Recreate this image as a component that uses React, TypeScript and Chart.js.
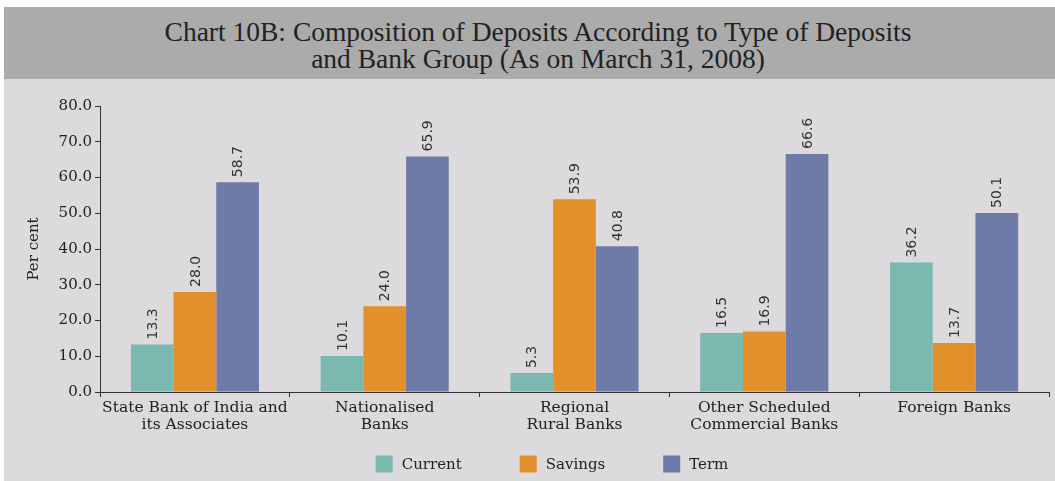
import React, { useEffect, useRef } from "react";
import { Chart, registerables } from "chart.js";

Chart.register(...registerables);

const categories: string[][] = [
  ["State Bank of India and", "its Associates"],
  ["Nationalised", "Banks"],
  ["Regional", "Rural Banks"],
  ["Other Scheduled", "Commercial Banks"],
  ["Foreign Banks"],
];
const currentValues = [13.3, 10.1, 5.3, 16.5, 36.2];
const savingsValues = [28.0, 24.0, 53.9, 16.9, 13.7];
const termValues = [58.7, 65.9, 40.8, 66.6, 50.1];
const seriesNames = ["Current", "Savings", "Term"];
const yTicksMax = 80;
const yTickStep = 10;

const COLORS = ["#7bb8b0", "#e2902a", "#6e7aa8"];
const SERIF = "'DejaVu Serif', serif";
const TITLE_SERIF = "'Liberation Serif', serif";
const SANS = "'DejaVu Sans', sans-serif";

const valueLabelPlugin = {
  id: "valueLabels",
  afterDatasetsDraw(chart: any) {
    const ctx = chart.ctx;
    ctx.save();
    ctx.font = `14px ${SANS}`;
    ctx.fillStyle = "#333";
    ctx.textAlign = "left";
    ctx.textBaseline = "middle";
    chart.data.datasets.forEach((ds: any, di: number) => {
      const meta = chart.getDatasetMeta(di);
      meta.data.forEach((bar: any, i: number) => {
        const v = ds.data[i];
        ctx.save();
        ctx.translate(bar.x, bar.y - 5);
        ctx.rotate(-Math.PI / 2);
        ctx.fillText(Number(v).toFixed(1), 0, 1);
        ctx.restore();
      });
    });
    ctx.restore();
  },
};

const customLegendPlugin = {
  id: "customLegend",
  afterDraw(chart: any) {
    const ctx = chart.ctx;
    const opts = chart.options.plugins.customLegend;
    ctx.save();
    ctx.font = `${opts.fontSize}px ${SERIF}`;
    ctx.textBaseline = "middle";
    ctx.textAlign = "left";
    const items = chart.data.datasets.map((ds: any) => ({
      label: ds.label,
      color: ds.backgroundColor,
      w: ctx.measureText(ds.label).width,
    }));
    const box = opts.box;
    const total =
      items.reduce((s: number, it: any) => s + box + opts.textGap + it.w, 0) +
      opts.itemGap * (items.length - 1);
    let x = opts.centerX - total / 2;
    const y = opts.y;
    items.forEach((it: any) => {
      ctx.fillStyle = it.color;
      ctx.fillRect(x, y - box / 2, box, box);
      ctx.fillStyle = "#222";
      ctx.fillText(it.label, x + box + opts.textGap, y + 1);
      x += box + opts.textGap + it.w + opts.itemGap;
    });
    ctx.restore();
  },
};

function ChartCanvas() {
  const ref = useRef<HTMLCanvasElement | null>(null);
  useEffect(() => {
    if (!ref.current) return;
    const chart = new Chart(ref.current, {
      type: "bar",
      data: {
        labels: categories,
        datasets: [
          { label: seriesNames[0], data: currentValues, backgroundColor: COLORS[0] },
          { label: seriesNames[1], data: savingsValues, backgroundColor: COLORS[1] },
          { label: seriesNames[2], data: termValues, backgroundColor: COLORS[2] },
        ],
      },
      options: {
        animation: false,
        responsive: false,
        maintainAspectRatio: false,
        layout: { padding: { left: 0, right: 6, top: 27, bottom: 39 } },
        datasets: {
          bar: { categoryPercentage: 0.675, barPercentage: 1.0 },
        },
        plugins: {
          legend: { display: false },
          tooltip: { enabled: false },
          customLegend: {
            centerX: 548,
            y: 385,
            box: 17,
            textGap: 9,
            itemGap: 58,
            fontSize: 15,
          },
        } as any,
        scales: {
          x: {
            grid: {
              display: true,
              drawOnChartArea: false,
              drawTicks: true,
              tickLength: 5,
              color: "#333",
              offset: true,
            },
            border: { display: true, color: "#333", width: 1 },
            ticks: {
              color: "#222",
              font: { family: SERIF, size: 15.5, lineHeight: 1.1 },
              padding: 2,
              maxRotation: 0,
              autoSkip: false,
            },
            afterFit(scale: any) {
              scale.height = 50;
            },
          },
          y: {
            min: 0,
            max: yTicksMax,
            grid: {
              display: true,
              drawOnChartArea: false,
              drawTicks: true,
              tickLength: 5,
              color: "#333",
            },
            border: { display: true, color: "#333", width: 1 },
            ticks: {
              stepSize: yTickStep,
              color: "#222",
              font: { family: SERIF, size: 15 },
              padding: 3,
              callback: (v: any) => Number(v).toFixed(1),
            },
            title: {
              display: true,
              text: "Per cent",
              color: "#222",
              font: { family: SERIF, size: 15, lineHeight: 1.2 },
              padding: { top: 21, bottom: 0 },
            },
            afterFit(scale: any) {
              scale.width = 96;
            },
          },
        },
      },
      plugins: [valueLabelPlugin, customLegendPlugin],
    });
    return () => chart.destroy();
  }, []);
  return (
    <canvas
      ref={ref}
      width={1051}
      height={402}
      style={{ display: "block", width: 1051, height: 402 }}
    />
  );
}

export default function App() {
  return (
    <div
      style={{
        position: "absolute",
        left: 0,
        top: 0,
        width: 1055,
        height: 481,
        background: "#ffffff",
        overflow: "hidden",
      }}
    >
      <div
        style={{
          position: "absolute",
          left: 4,
          top: 7,
          width: 1051,
          height: 72,
          background: "#ababab",
          boxSizing: "border-box",
          paddingTop: 10.5,
          paddingLeft: 17,
          textAlign: "center",
          fontFamily: TITLE_SERIF,
          fontSize: 27.5,
          lineHeight: "27px",
          color: "#222",
        }}
      >
        <div>Chart 10B: Composition of Deposits According to Type of Deposits</div>
        <div>and Bank Group (As on March 31, 2008)</div>
      </div>
      <div
        style={{
          position: "absolute",
          left: 4,
          top: 79,
          width: 1051,
          height: 402,
          background: "#dcdadc",
        }}
      >
        <ChartCanvas />
      </div>
    </div>
  );
}
